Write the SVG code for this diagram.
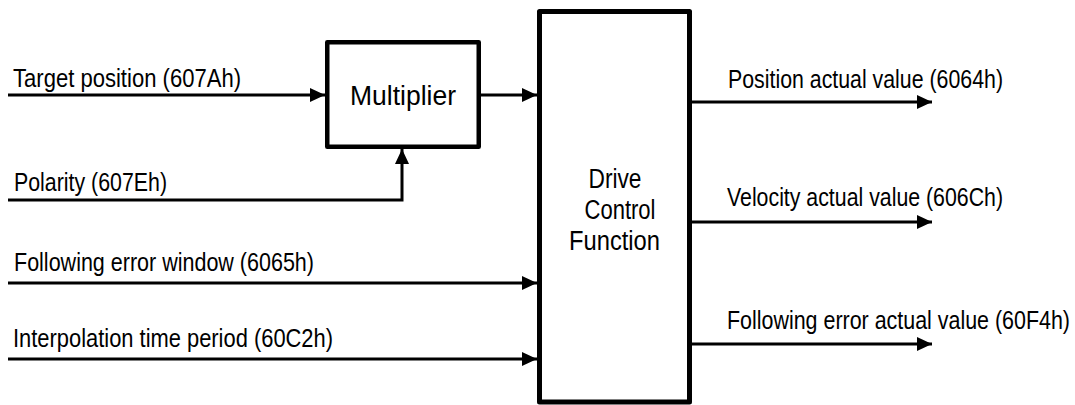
<svg xmlns="http://www.w3.org/2000/svg" width="1075" height="405" viewBox="0 0 1075 405">
<style>
.box{fill:#fff;stroke:#000;stroke-linejoin:round}
.ln{fill:none;stroke:#000;stroke-width:3;marker-end:url(#ah)}
.lbl{font-family:"Liberation Sans",Arial,sans-serif;font-size:25px;fill:#000}
.big{font-family:"Liberation Sans",Arial,sans-serif;font-size:27px;fill:#000;text-anchor:middle}
</style>
<defs>
<marker id="ah" markerUnits="userSpaceOnUse" markerWidth="16" markerHeight="15" refX="15" refY="7" orient="auto">
<path d="M0,0 L15,7 L0,14 z" fill="#000"/>
</marker>
</defs>
<rect width="1075" height="405" fill="#fff"/>
<g id="connectors">
<path class="ln" d="M8,95 H325"/>
<path class="ln" d="M481,95 H537"/>
<path class="ln" d="M8,200 H402 V149"/>
<path class="ln" d="M8,283 H537"/>
<path class="ln" d="M8,359 H537"/>
<path class="ln" d="M692,102 H932"/>
<path class="ln" d="M692,222 H932"/>
<path class="ln" d="M692,344 H932"/>
</g>
<g id="multiplier">
<rect class="box" x="327.25" y="42.25" width="151.5" height="104.5" stroke-width="4.5"/>
<text class="big" x="403" y="105" textLength="106" lengthAdjust="spacingAndGlyphs">Multiplier</text>
</g>
<g id="drive">
<rect class="box" x="539.5" y="11.5" width="150" height="390.5" stroke-width="5"/>
<text class="big" x="615" y="188" textLength="53" lengthAdjust="spacingAndGlyphs">Drive</text>
<text class="big" x="620" y="219" textLength="71" lengthAdjust="spacingAndGlyphs">Control</text>
<text class="big" x="614.5" y="250" textLength="91" lengthAdjust="spacingAndGlyphs">Function</text>
</g>
<g id="labels">
<text class="lbl" x="13" y="87" textLength="228" lengthAdjust="spacingAndGlyphs">Target position (607Ah)</text>
<text class="lbl" x="14" y="191" textLength="153" lengthAdjust="spacingAndGlyphs">Polarity (607Eh)</text>
<text class="lbl" x="14" y="271" textLength="300" lengthAdjust="spacingAndGlyphs">Following error window (6065h)</text>
<text class="lbl" x="13" y="347" textLength="320" lengthAdjust="spacingAndGlyphs">Interpolation time period (60C2h)</text>
<text class="lbl" x="728" y="88" textLength="275" lengthAdjust="spacingAndGlyphs">Position actual value (6064h)</text>
<text class="lbl" x="727" y="206" textLength="276" lengthAdjust="spacingAndGlyphs">Velocity actual value (606Ch)</text>
<text class="lbl" x="727" y="329" textLength="343" lengthAdjust="spacingAndGlyphs">Following error actual value (60F4h)</text>
</g>
</svg>
